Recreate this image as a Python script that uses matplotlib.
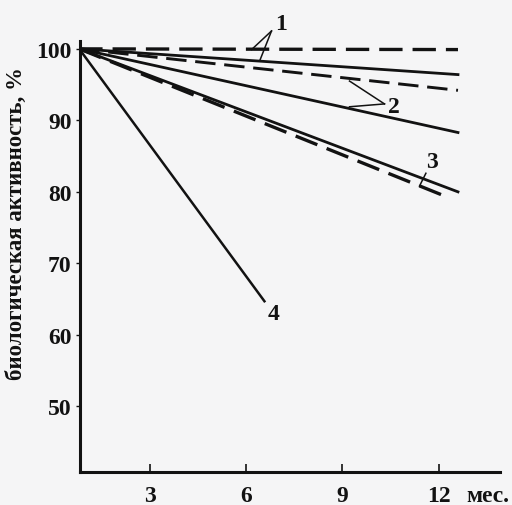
import matplotlib
matplotlib.use("Agg")
import matplotlib.pyplot as plt

# storage time (months) and biological activity (%)
t_start = 0.8
t_end = 12.6

line1_solid = [100, 96.4]
line1_dashed = [100, 99.9]
line2_solid = [100, 88.3]
line2_dashed = [100, 94.2]
line3_solid = [100, 80.0]
line3_dashed = [100, 79.3]
line3_dashed_end = 12.25
line4 = [100, 64.7]
line4_end = 6.57

x_ticks = [3, 6, 9, 12]
y_ticks = [50, 60, 70, 80, 90, 100]

ink = "#121212"
font = dict(family="Liberation Serif", weight="bold")
fs = 17

fig = plt.figure(figsize=(5.12, 5.06), dpi=100, facecolor="#f5f5f6")
ax = fig.add_axes([0.156, 0.065, 0.82, 0.852])
ax.set_facecolor("none")

dash = (7, 3)
ax.plot([t_start, t_end], line1_solid, color=ink, lw=2.0)
ax.plot([t_start, t_end], line1_dashed, color=ink, lw=2.4, dashes=dash)
ax.plot([t_start, t_end], line2_solid, color=ink, lw=2.0)
ax.plot([t_start, t_end], line2_dashed, color=ink, lw=2.1, dashes=dash)
ax.plot([t_start, t_end], line3_solid, color=ink, lw=2.0)
ax.plot([t_start, line3_dashed_end], line3_dashed, color=ink, lw=2.4, dashes=dash)
ax.plot([t_start, line4_end], line4, color=ink, lw=1.8)

# curve labels with leader lines
ax.text(7.1, 103.5, "1", ha="center", va="center", fontsize=fs, color=ink, **font)
ax.plot([6.79, 6.17], [102.5, 99.9], color=ink, lw=1.1, clip_on=False)
ax.plot([6.79, 6.42], [102.5, 98.3], color=ink, lw=1.1, clip_on=False)
ax.text(10.6, 91.9, "2", ha="center", va="center", fontsize=fs, color=ink, **font)
ax.plot([10.31, 9.22], [92.3, 95.5], color=ink, lw=1.1)
ax.plot([10.31, 9.22], [92.3, 91.9], color=ink, lw=1.1)
ax.text(11.78, 84.2, "3", ha="center", va="center", fontsize=fs, color=ink, **font)
ax.plot([11.6, 11.4], [82.6, 80.8], color=ink, lw=1.1)
ax.text(6.85, 63.0, "4", ha="center", va="center", fontsize=fs, color=ink, **font)

ax.set_xlim(0.82, 13.9)
ax.set_ylim(40.8, 101.1)
ax.set_xticks(x_ticks)
ax.set_yticks(y_ticks)
ax.set_xticklabels([str(v) for v in x_ticks], fontsize=fs, color=ink, **font)
ax.set_yticklabels([str(v) for v in y_ticks], fontsize=fs, color=ink, **font)
ax.tick_params(axis="x", direction="in", length=6, width=1.2, pad=9, colors=ink)
ax.tick_params(axis="y", direction="out", length=3, width=1.0, pad=3, colors=ink)
ax.annotate("мес.", xy=(12.85, 0), xycoords=("data", "axes fraction"),
            xytext=(0, -9), textcoords="offset points", ha="left", va="top",
            fontsize=fs, color=ink, annotation_clip=False, **font)

for side in ["top", "right"]:
    ax.spines[side].set_visible(False)
for side in ["left", "bottom"]:
    ax.spines[side].set_linewidth(2.2)
    ax.spines[side].set_color(ink)

ax.set_ylabel("биологическая активность, %", fontsize=16.5, color=ink, **font)
ax.yaxis.set_label_coords(-0.125, 0.58)

fig.savefig("out.png", dpi=100, facecolor=fig.get_facecolor())
